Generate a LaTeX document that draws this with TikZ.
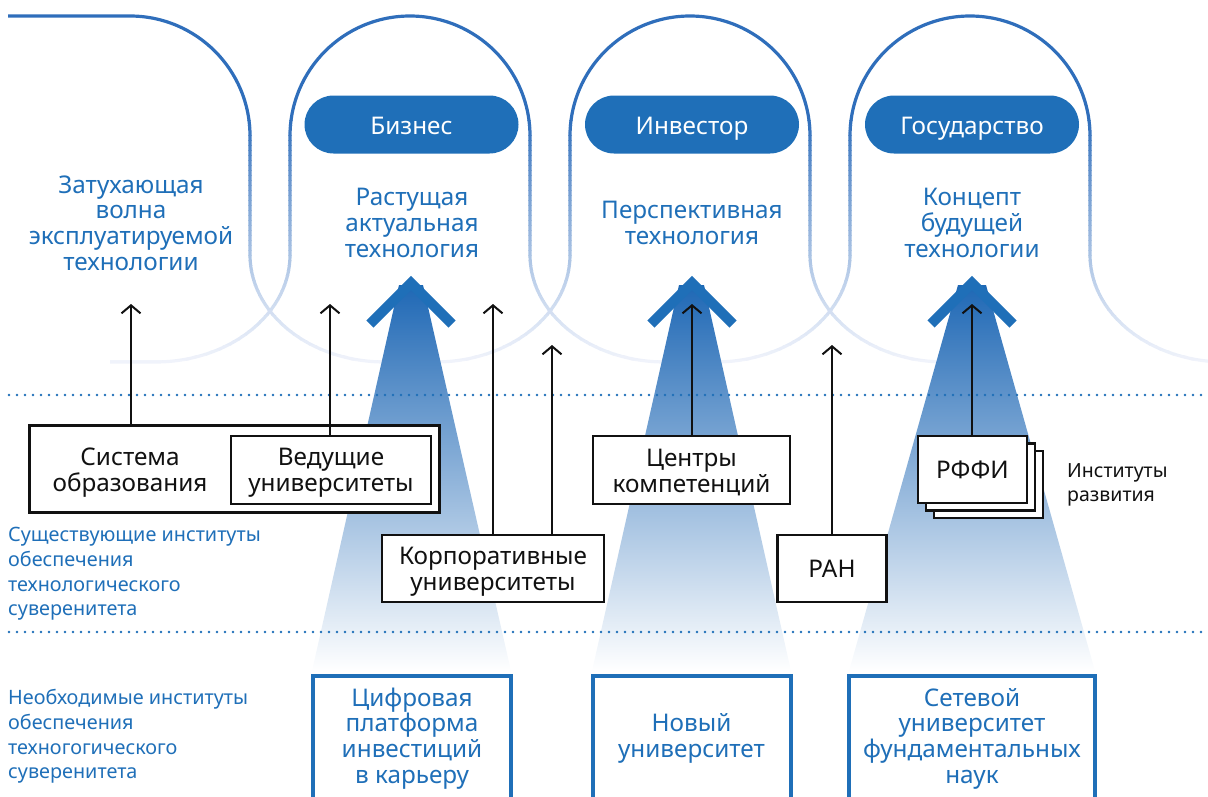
\documentclass[tikz,border=0pt]{standalone}
\usepackage{fontspec}
\setmainfont{Noto Sans}
\usetikzlibrary{arrows.meta}
\definecolor{mainblue}{HTML}{1F6FB8}
\definecolor{arcblue}{HTML}{2F6EBB}
\definecolor{lavw}{HTML}{F6F7FD}
\definecolor{beamtop}{HTML}{1F68B5}
\definecolor{beammid}{HTML}{92A9DC}
\definecolor{inkblack}{HTML}{111111}
\newcommand{\archways}{%
 (8,16) -- (130,16) arc[start angle=270,end angle=360,radius=120] -- (250,255)
   arc[start angle=180,end angle=90,x radius=135,y radius=107] -- ++(45,0)
 \foreach \c in {410,690,970}{
   (\c-300,362) -- (\c-255,362) arc[start angle=90,end angle=0,x radius=135,y radius=107]
   -- (\c-120,136) arc[start angle=180,end angle=360,radius=120]
   -- (\c+120,255) arc[start angle=180,end angle=90,x radius=135,y radius=107] -- ++(45,0)
 }}
\tikzset{
  arcline/.style={line width=3.2pt},
  beamshade/.style={top color=beamtop, middle color=beammid, bottom color=white},
  chev/.style={draw=mainblue, line width=10pt, line join=miter},
  dotline/.style={draw=mainblue, line width=2.6pt, line cap=round, dash pattern=on 0pt off 8pt},
  pill/.style={fill=mainblue, rounded corners=29pt, minimum width=214pt, minimum height=58pt,
    text=white, font=\fontsize{24.3}{25.7}\selectfont, inner sep=0pt, text height=20pt, text depth=0pt},
  bluetxt/.style={text=mainblue, font=\fontsize{24.3}{25.7}\selectfont, align=center, inner sep=0pt},
  blacktxt/.style={text=inkblack, font=\fontsize{24.3}{25.7}\selectfont, align=center, inner sep=0pt},
  sidetxt/.style={text=mainblue, font=\fontsize{19.8}{24.6}\selectfont, align=left, inner sep=0pt, anchor=west},
  blackbox/.style={draw=inkblack, line width=2.8pt, fill=white, inner sep=0pt},
  bluebox/.style={draw=mainblue, line width=4pt, fill=white, inner sep=0pt},
  arr/.style={draw=inkblack, line width=2pt, -{Straight Barb[length=8pt,width=19pt]}}
}
\begin{document}
\begin{tikzpicture}[x=1pt,y=-1pt]
\useasboundingbox (0,0) rectangle (1208,796);
\clip (0,0) rectangle (1208,796);
% arches with vertical fade
\begin{scope}
  \clip (-5,-5) rectangle (1215,120);
  \draw[arcline,draw=arcblue] \archways;
\end{scope}
\foreach \i in {0,...,51}{
  \pgfmathsetmacro{\ya}{120+5*\i}
  \pgfmathsetmacro{\yb}{\ya+5.4}
  \pgfmathsetmacro{\pc}{100*(1-(\i+0.5)/52)^1.3}
  \begin{scope}
    \clip (-5,\ya) rectangle (1215,\yb);
    \draw[arcline,draw=arcblue!\pc!lavw] \archways;
  \end{scope}
}
% beams
\shade[beamshade] (399,285) -- (423,285) -- (511,671) -- (312,671) -- cycle;
\shade[beamshade] (679,285) -- (704,285) -- (791,671) -- (592,671) -- cycle;
\shade[beamshade] (958,285) -- (986,285) -- (1095,671) -- (849,671) -- cycle;
\draw[chev] (370,324) -- (411,283) -- (452,324);
\draw[chev] (651,324) -- (692,283) -- (733,324);
\draw[chev] (931,324) -- (972,283) -- (1013,324);
% dotted separators
\draw[dotline] (9,395) -- (1208,395);
\draw[dotline] (9,632) -- (1208,632);
% pills
\node[pill] (biz) at (411.5,124.5) {Бизнес};
\node[pill] (inv) at (692,124.5) {Инвестор};
\node[pill] (gos) at (972,124.5) {Государство};
% wave labels
\node[bluetxt] (w0) at (131,223) {Затухающая\\волна\\эксплуатируемой\\технологии};
\node[bluetxt] (w1) at (412,223) {Растущая\\актуальная\\технология};
\node[bluetxt] (w2) at (692,223) {Перспективная\\технология};
\node[bluetxt] (w3) at (972,223) {Концепт\\будущей\\технологии};
% existing institutions
\node[blackbox, minimum width=410pt, minimum height=87pt] (sis) at (234.5,469) {};
\node[blacktxt] (sist) at (130,472.5) {Система\\образования};
\node[blackbox, minimum width=200pt, minimum height=68pt] (ved) at (331,470) {};
\node[blacktxt] (vedt) at (331,472.5) {Ведущие\\университеты};
\node[blackbox, minimum width=197pt, minimum height=68pt] (cen) at (691.5,470) {};
\node[blacktxt] (cent) at (691.5,472.5) {Центры\\компетенций};
\node[blackbox, minimum width=222pt, minimum height=67pt] (kor) at (493,568.5) {};
\node[blacktxt] (kort) at (493,571.5) {Корпоративные\\университеты};
\node[blackbox, minimum width=109pt, minimum height=67pt] (ran) at (832,568.5) {};
\node[blacktxt] (rant) at (832,569) {РАН};
\node[blackbox, minimum width=109pt, minimum height=67pt] (rf3) at (988.5,484.5) {};
\node[blackbox, minimum width=109pt, minimum height=67pt] (rf2) at (980.5,477) {};
\node[blackbox, minimum width=109pt, minimum height=67pt] (rf1) at (972.5,469.5) {};
\node[blacktxt] (rft) at (972.5,470) {РФФИ};
\node[text=inkblack, font=\fontsize{19.5}{24.6}\selectfont, align=left, inner sep=0pt, anchor=west] (dev) at (1067,485) {Институты\\развития};
% side labels
\node[sidetxt] (ex) at (8,574) {Существующие институты\\обеспечения\\технологического\\суверенитета};
\node[sidetxt] (ne) at (8,736.5) {Необходимые институты\\обеспечения\\техногогического\\суверенитета};
% required institutions
\node[bluebox, minimum width=198pt, minimum height=150pt] (dig) at (412,751) {};
\node[bluetxt] (digt) at (412,738.5) {Цифровая\\платформа\\инвестиций\\в карьеру};
\node[bluebox, minimum width=198pt, minimum height=150pt] (nov) at (691.5,751) {};
\node[bluetxt] (novt) at (691.5,738.5) {Новый\\университет};
\node[bluebox, minimum width=246pt, minimum height=150pt] (set) at (972,751) {};
\node[bluetxt] (sett) at (972,738.5) {Сетевой\\университет\\фундаментальных\\наук};
% arrows
\coordinate (a1) at (131,304);
\coordinate (a2) at (330,304);
\coordinate (a3) at (493,304);
\coordinate (a4) at (552,345);
\coordinate (a5) at (692,304);
\coordinate (a6) at (832,345);
\coordinate (a7) at (972,304);
\draw[arr] (a1 |- sis.north) -- (a1);
\draw[arr] (a2 |- ved.north) -- (a2);
\draw[arr] (a3 |- kor.north) -- (a3);
\draw[arr] (a4 |- kor.north) -- (a4);
\draw[arr] (a5 |- cen.north) -- (a5);
\draw[arr] (a6 |- ran.north) -- (a6);
\draw[arr] (a7 |- rf1.north) -- (a7);
\end{tikzpicture}
\end{document}
